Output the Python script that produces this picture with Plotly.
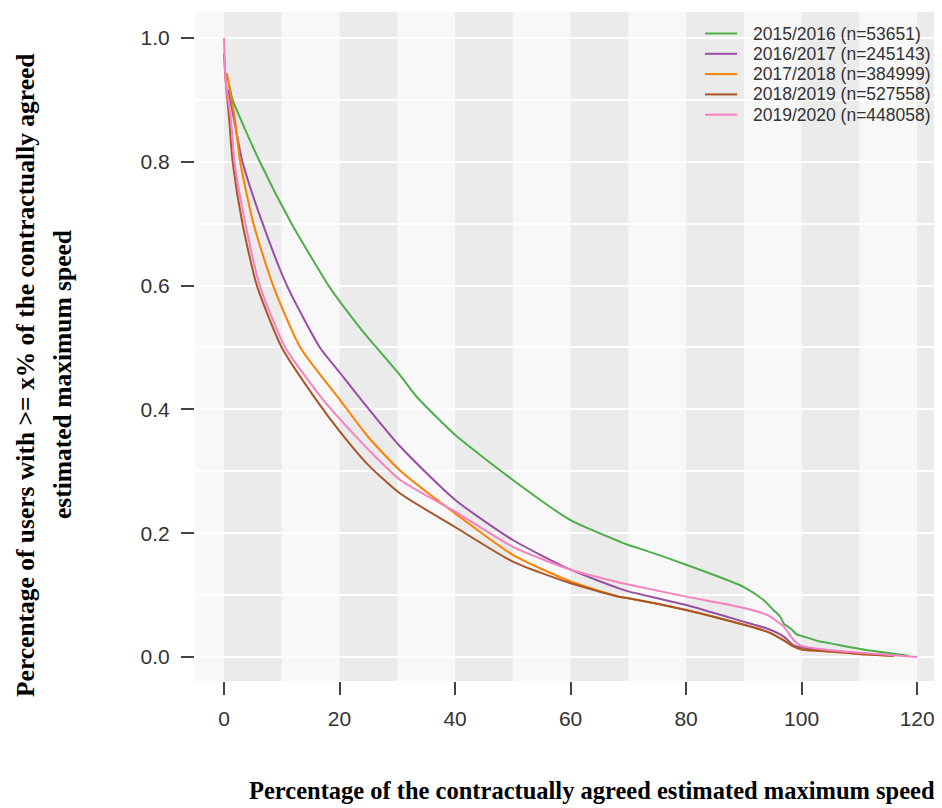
import plotly.graph_objects as go

# ---- data ----
series_names = ["2015/2016 (n=53651)", "2016/2017 (n=245143)", "2017/2018 (n=384999)",
                "2018/2019 (n=527558)", "2019/2020 (n=448058)"]
series_colors = ["#4daf4a", "#984ea3", "#ff7f00", "#a65628", "#f781bf"]

x_2015 = [0.9, 1.5, 6.2, 11.7, 18.1, 20, 25, 26.4, 30.5, 33.4, 40, 50, 60, 68.6, 70, 72,
          80, 90, 93.4, 95.1, 96.3, 96.9, 98.1, 99.2, 100, 103.2, 105, 110.7, 118.5]
y_2015 = [0.924, 0.9, 0.8, 0.7, 0.6, 0.575, 0.515, 0.5, 0.455, 0.42, 0.359, 0.286, 0.221, 0.186, 0.181, 0.175,
          0.149, 0.113, 0.092, 0.076, 0.065, 0.054, 0.046, 0.036, 0.034, 0.025, 0.022, 0.012, 0.002]

x_2016 = [0.75, 1.5, 3.2, 6.7, 10.9, 16.6, 20, 23.8, 30.5, 40, 50, 60, 68.6, 70,
          80, 90, 94, 96.9, 98.6, 100, 105, 110, 116]
y_2016 = [0.916, 0.88, 0.8, 0.7, 0.6, 0.5, 0.46, 0.415, 0.34, 0.254, 0.189, 0.141, 0.110, 0.106,
          0.084, 0.057, 0.046, 0.033, 0.019, 0.015, 0.010, 0.006, 0.002]

x_2017 = [0.5, 1.9, 2.8, 5.1, 8.5, 13.2, 20.1, 25, 30.5, 40, 50, 60, 68.6, 70,
          80, 90, 94, 96.9, 98.6, 100, 105, 110, 116]
y_2017 = [0.943, 0.868, 0.8, 0.7, 0.6, 0.5, 0.415, 0.355, 0.301, 0.232, 0.165, 0.122, 0.097, 0.095,
          0.076, 0.052, 0.041, 0.027, 0.017, 0.012, 0.009, 0.005, 0.002]

x_2018 = [0.0, 0.3, 0.9, 1.5, 3.2, 5.7, 10.0, 16.0, 20, 25, 30.5, 40, 50, 60, 68.6, 70,
          80, 90, 94, 96.9, 98.6, 100, 105, 110, 116]
y_2018 = [0.975, 0.93, 0.868, 0.8, 0.7, 0.6, 0.5, 0.415, 0.365, 0.31, 0.264, 0.21, 0.154, 0.119, 0.097, 0.095,
          0.076, 0.052, 0.041, 0.027, 0.017, 0.012, 0.009, 0.005, 0.002]

x_2019 = [0.0, 0.3, 1.2, 1.8, 3.7, 6.2, 10.6, 17.2, 20, 25, 30.5, 40, 50, 60, 68.6, 70,
          80, 90, 94, 96.9, 98.6, 100, 105, 110, 120]
y_2019 = [1.0, 0.93, 0.868, 0.8, 0.7, 0.6, 0.5, 0.415, 0.385, 0.335, 0.286, 0.235, 0.178, 0.141, 0.12, 0.117,
          0.0975, 0.079, 0.068, 0.049, 0.0275, 0.018, 0.011, 0.007, 0.0]

xs = [x_2015, x_2016, x_2017, x_2018, x_2019]
ys = [y_2015, y_2016, y_2017, y_2018, y_2019]

x_ticks = [0, 20, 40, 60, 80, 100, 120]
y_ticks = [0.0, 0.2, 0.4, 0.6, 0.8, 1.0]
band_starts = [0, 20, 40, 60, 80, 100, 120]

x_title = "Percentage of the contractually agreed estimated maximum speed"
y_title_lines = ["Percentage of users with >= x% of the contractually agreed",
                 "estimated maximum speed"]

# ---- figure ----
# The page body has an 8px margin, so the figure is 8px smaller and margins shifted by 8px.
W, H = 934, 800
ml, mr, mt, mb = 187, 0, 4, 127
PW, PH = W - ml - mr, H - mt - mb


def px_x(p):  # page pixel -> paper x
    return (p - 8 - ml) / PW


def px_y(p):  # page pixel -> paper y
    return (H - mb - (p - 8)) / PH


fig = go.Figure()
for name, col, x, y in zip(series_names, series_colors, xs, ys):
    fig.add_trace(go.Scatter(x=x, y=y, mode="lines", name=name, showlegend=False,
                             line=dict(color=col, width=2, shape="spline", smoothing=0.6)))

shapes = []
for b in band_starts:
    shapes.append(dict(type="rect", xref="x", yref="paper", x0=b, x1=b + 10, y0=0, y1=1,
                       fillcolor="#ebebeb", line=dict(width=0), layer="below"))

# legend drawn as key lines + labels at the top right of the plot
legend_rows = [33.5, 53.8, 74.1, 94.4, 114.7]
annotations = []
for name, col, row in zip(series_names, series_colors, legend_rows):
    shapes.append(dict(type="line", xref="paper", yref="paper",
                       x0=px_x(705), x1=px_x(737), y0=px_y(row), y1=px_y(row),
                       line=dict(color=col, width=2), layer="above"))
    annotations.append(dict(text=name, xref="paper", yref="paper", x=px_x(752), y=px_y(row),
                            xanchor="left", yanchor="middle", showarrow=False, borderpad=0,
                            font=dict(size=17.5, family="Liberation Sans, Arial", color="#333333")))

annotations.append(dict(text="<b>" + x_title + "</b>", xref="paper", yref="paper",
                        x=px_x(592), y=px_y(806), xanchor="center", yanchor="bottom", showarrow=False,
                        font=dict(family="Liberation Serif", size=24.5, color="black")))
for line_text, cx in zip(y_title_lines, [25, 62]):
    annotations.append(dict(text="<b>" + line_text + "</b>", xref="paper", yref="paper",
                            x=px_x(cx), y=px_y(375), xanchor="center", yanchor="middle",
                            textangle=-90, showarrow=False, borderpad=0,
                            font=dict(family="Liberation Serif", size=25.5, color="black")))

fig.update_layout(
    width=W, height=H,
    margin=dict(l=ml, r=mr, t=mt, b=mb, pad=0),
    paper_bgcolor="white",
    plot_bgcolor="#f8f8f8",
    shapes=shapes,
    annotations=annotations,
    font=dict(family="Liberation Sans, Arial", color="#333333"),
    showlegend=False,
    xaxis=dict(range=[-5.02, 124.3], tickvals=x_ticks, ticktext=[str(t) for t in x_ticks],
               showgrid=False, zeroline=False, showline=False,
               ticks="outside", ticklen=13, tickwidth=1.5, tickcolor="#444444",
               ticklabelstandoff=6,
               tickfont=dict(size=21, color="#333333")),
    yaxis=dict(range=[-0.0388, 1.042], tickvals=y_ticks, ticktext=[f"{t:.1f}" for t in y_ticks],
               showgrid=True, gridcolor="white", gridwidth=1.5,
               minor=dict(dtick=0.1, showgrid=True, gridcolor="white", gridwidth=1.5, tick0=0),
               zeroline=False, showline=False,
               ticks="outside", ticklen=13, tickwidth=1.5, tickcolor="#444444",
               ticklabelstandoff=7,
               tickfont=dict(size=21, color="#333333")),
)

fig.write_html("out.html")
